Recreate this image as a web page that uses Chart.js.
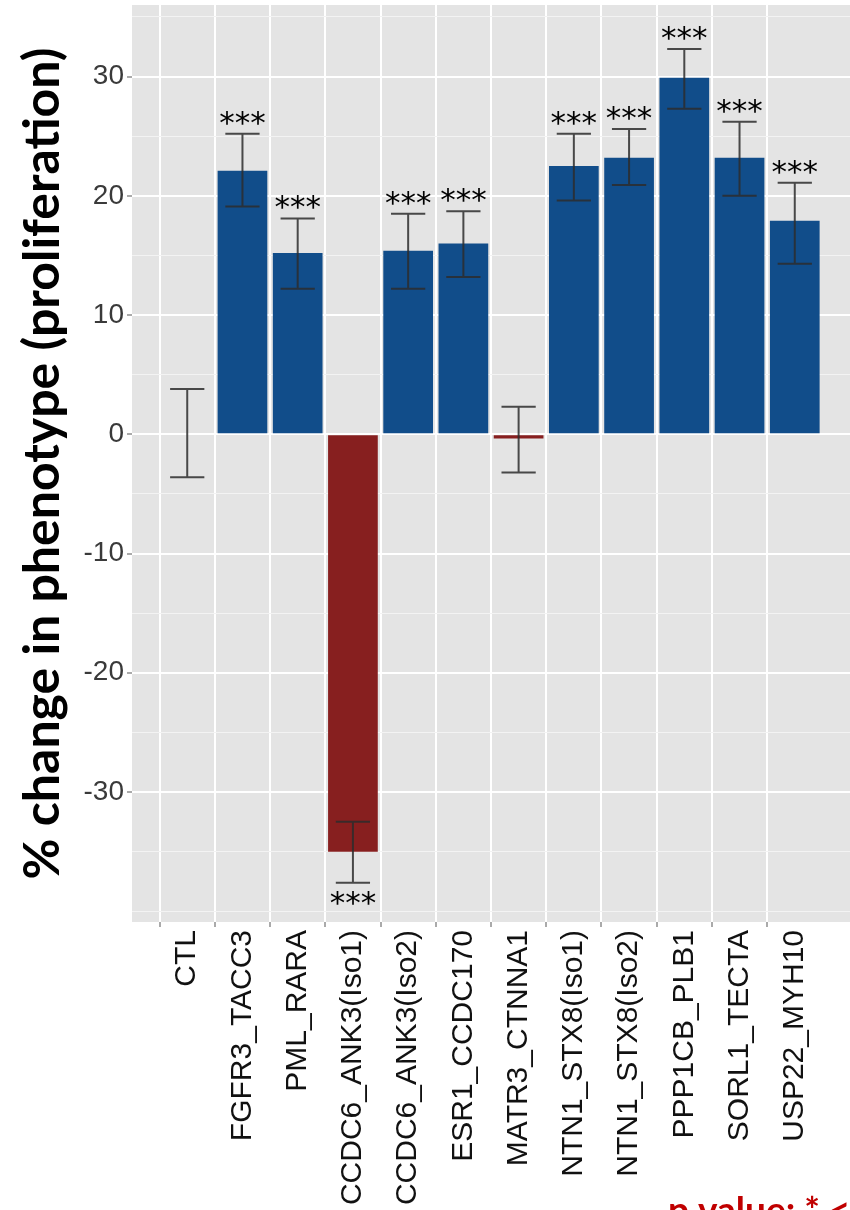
<!DOCTYPE html>
<html>
<head>
<meta charset="utf-8">
<script src="https://cdn.jsdelivr.net/npm/chart.js@4.4.1/dist/chart.umd.min.js"></script>
<style>
  html, body { margin:0; padding:0; background:#fff; }
  #wrap { width:850px; height:1210px; position:relative; overflow:hidden; }
</style>
</head>
<body>
<div id="wrap"><canvas id="chart" width="850" height="1210"></canvas></div>
<script>
// ── Data ───────────────────────────────────────────────────
const genes = ['CTL', 'FGFR3_TACC3', 'PML_RARA', 'CCDC6_ANK3(Iso1)', 'CCDC6_ANK3(Iso2)',
               'ESR1_CCDC170', 'MATR3_CTNNA1', 'NTN1_STX8(Iso1)', 'NTN1_STX8(Iso2)',
               'PPP1CB_PLB1', 'SORL1_TECTA', 'USP22_MYH10'];
const pctChange = [0, 22.1, 15.2, -35.0, 15.4, 16.0, -0.35, 22.5, 23.2, 29.9, 23.2, 17.9];
const errLow    = [-3.6, 19.1, 12.2, -37.6, 12.2, 13.2, -3.2, 19.6, 20.9, 27.3, 20.0, 14.3];
const errHigh   = [3.8, 25.2, 18.1, -32.5, 18.5, 18.7, 2.3, 25.2, 25.6, 32.3, 26.2, 21.1];
const signif    = ['', '***', '***', '***', '***', '***', '', '***', '***', '***', '***', '***'];
const yTicks    = [-30, -20, -10, 0, 10, 20, 30];

// one empty slot each side so the panel has a full category of margin
const labels = ['', ...genes, ''];
const values = [null, ...pctChange, null];

const BLUE = '#114d8a';
const RED  = '#871f1f';

// scales must not reserve extra room for their end labels
function noPad(s) {
  s.paddingLeft = 0; s.paddingRight = 0;
  s.paddingTop = 0;  s.paddingBottom = 0;
}

// ── Panel background ──────────────────────────────────────
const panelBg = {
  id: 'panelBg',
  beforeDraw(chart) {
    const { ctx, chartArea: a } = chart;
    ctx.save();
    ctx.fillStyle = '#e4e4e4';
    ctx.fillRect(a.left, a.top, a.right - a.left, a.bottom - a.top);
    ctx.restore();
  }
};

// ── Error bars + significance stars ───────────────────────
const errorBars = {
  id: 'errorBars',
  afterDatasetsDraw(chart) {
    const { ctx, scales: { x, y } } = chart;
    const cap = (x.getPixelForValue(2) - x.getPixelForValue(1)) * 0.31;
    ctx.save();
    ctx.strokeStyle = 'rgba(45,45,45,0.85)';
    ctx.lineWidth = 2;
    ctx.font = '31px "DejaVu Sans"';
    ctx.fillStyle = '#000';
    ctx.textAlign = 'center';
    ctx.textBaseline = 'alphabetic';
    genes.forEach((g, i) => {
      const px = x.getPixelForValue(i + 1);
      const lo = y.getPixelForValue(errLow[i]);
      const hi = y.getPixelForValue(errHigh[i]);
      ctx.beginPath();
      ctx.moveTo(px, lo); ctx.lineTo(px, hi);
      ctx.moveTo(px - cap, lo); ctx.lineTo(px + cap, lo);
      ctx.moveTo(px - cap, hi); ctx.lineTo(px + cap, hi);
      ctx.stroke();
      if (signif[i]) {
        const ty = pctChange[i] >= 0 ? hi - 1 : lo + 30;
        ctx.fillText(signif[i], px, ty);
      }
    });
    ctx.restore();
  }
};

// ── Footnote (cut off at the bottom, as in the figure) ────
const footnote = {
  id: 'footnote',
  afterDraw(chart) {
    const { ctx } = chart;
    ctx.save();
    ctx.font = 'bold 37px Lato';
    ctx.fillStyle = '#c00000';
    ctx.textBaseline = 'alphabetic';
    ctx.fillText('p value: * < 0.05; ** < 0.01; *** < 0.001', 668, 1223);
    ctx.restore();
  }
};

new Chart(document.getElementById('chart'), {
  type: 'bar',
  data: {
    labels,
    datasets: [{
      data: values,
      backgroundColor: ctx => (ctx.raw != null && ctx.raw < 0) ? RED : BLUE,
      borderWidth: 0,
      barPercentage: 0.9,
      categoryPercentage: 1.0,
    }],
  },
  options: {
    responsive: false,
    animation: false,
    layout: { padding: { top: 5, right: 0, bottom: 0, left: 0 } },
    plugins: { legend: { display: false }, tooltip: { enabled: false } },
    scales: {
      x: {
        offset: false,
        afterFit: s => { s.height = 288; noPad(s); },
        border: { display: false },
        grid: {
          color: c => (c.index === 0 || c.index === labels.length - 1) ? 'transparent' : '#ffffff',
          lineWidth: 2,
          tickLength: 5,
          tickColor: c => (c.index === 0 || c.index === labels.length - 1) ? 'transparent' : '#aaaaaa',
        },
        ticks: {
          autoSkip: false,
          minRotation: 90,
          maxRotation: 90,
          padding: 3,
          color: '#111',
          font: { family: '"Liberation Sans", Arial, sans-serif', size: 30 },
        },
      },
      y: {
        min: -40.9,
        max: 36,
        afterFit: s => { s.width = 132; noPad(s); },
        border: { display: false },
        grid: {
          color: c => yTicks.includes(c.tick.value) ? '#ffffff' : '#f3f3f3',
          lineWidth: c => yTicks.includes(c.tick.value) ? 2 : 1,
          tickLength: 5,
          tickColor: c => yTicks.includes(c.tick.value) ? '#aaaaaa' : 'transparent',
        },
        ticks: {
          stepSize: 5,
          includeBounds: false,
          padding: 3,
          color: '#3a3a3a',
          font: { family: '"Liberation Sans", Arial, sans-serif', size: 28 },
          callback: v => yTicks.includes(v) ? String(v) : '',
        },
        title: {
          display: true,
          text: '% change in phenotype (proliferation)',
          color: '#000',
          padding: { top: 13, bottom: 0 },
          font: { family: 'Lato', weight: 'bold', size: 50 },
        },
      },
    },
  },
  plugins: [panelBg, errorBars, footnote],
});
</script>
</body>
</html>
